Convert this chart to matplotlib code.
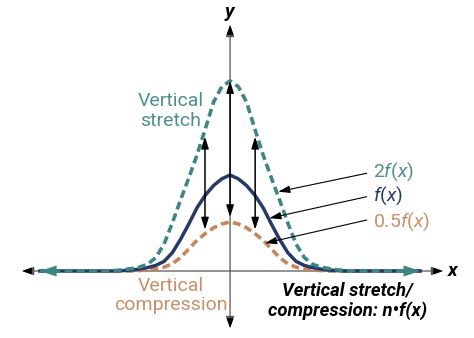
import matplotlib
matplotlib.use('Agg')
import matplotlib.pyplot as plt

plt.rcParams['font.family'] = ['Roboto', 'DejaVu Sans']
plt.rcParams['mathtext.fontset'] = 'custom'
plt.rcParams['mathtext.rm'] = 'Roboto'
plt.rcParams['mathtext.it'] = 'Roboto:italic'

# sample points (x in units of ~33 px, y in units of f's peak)
x_pts = [-5.76, -3.75, -3.5, -3.25, -3.0, -2.75, -2.5, -2.25, -2.0, -1.75, -1.5, -1.25, -1.0, -0.75, -0.5, -0.25,
         0.0, 0.25, 0.5, 0.75, 1.0, 1.25, 1.5, 1.75, 2.0, 2.25, 2.5, 2.75, 3.0, 3.25, 3.5, 3.75, 5.76]
f_vals = [0.0, 0.0, 0.0, 0.004, 0.01, 0.02, 0.035, 0.058, 0.10, 0.19, 0.33, 0.49, 0.66, 0.79, 0.89, 0.96,
          1.00, 0.96, 0.89, 0.79, 0.66, 0.49, 0.33, 0.19, 0.10, 0.058, 0.035, 0.02, 0.01, 0.004, 0.0, 0.0, 0.0]
f2_vals = [0.0, 0.0, 0.005, 0.012, 0.025, 0.04, 0.07, 0.14, 0.28, 0.50, 0.74, 0.97, 1.21, 1.48, 1.76, 1.92,
           1.98, 1.92, 1.76, 1.48, 1.21, 0.97, 0.74, 0.50, 0.28, 0.14, 0.07, 0.04, 0.025, 0.012, 0.005, 0.0, 0.0]
fh_vals = [0.0, 0.0, 0.0, 0.0, 0.0, 0.005, 0.01, 0.02, 0.04, 0.075, 0.14, 0.23, 0.32, 0.39, 0.45, 0.49,
           0.51, 0.49, 0.45, 0.39, 0.32, 0.23, 0.14, 0.075, 0.04, 0.02, 0.01, 0.005, 0.0, 0.0, 0.0, 0.0, 0.0]

# the double arrows between 2f(x) and 0.5f(x)
arrow_x = [-0.76, 0.0, 0.76]
arrow_top = [1.40, 1.98, 1.40]
arrow_bot = [0.43, 0.56, 0.43]

labels = ['2$f$($x$)', '$f$($x$)', '0.5$f$($x$)']

teal = '#3f8584'
navy = '#263a66'
orange = '#c8855a'
teal_txt = '#4f8f8c'
orange_txt = '#c98f69'

fig = plt.figure(figsize=(4.74, 3.38), dpi=100)
ax = fig.add_axes([0, 0, 1, 1])
ax.set_xlim(-6.97, 7.39)
ax.set_ylim(-0.698, 2.823)
ax.axis('off')

# axes with arrowheads
ax.annotate('', xy=(6.45, 0), xytext=(-6.30, 0),
            arrowprops=dict(arrowstyle='<|-|>,head_length=0.7,head_width=0.25',
                            mutation_scale=10, color='#555555', lw=0.9,
                            shrinkA=0, shrinkB=0))
ax.annotate('', xy=(0, 2.5625), xytext=(0, -0.594),
            arrowprops=dict(arrowstyle='<|-|>,head_length=0.7,head_width=0.25',
                            mutation_scale=10, color='#555555', lw=0.9,
                            shrinkA=0, shrinkB=0))
# black heads over the gray shafts
for tip, tail in [((6.45, 0), (6.0, 0)), ((-6.30, 0), (-5.9, 0)),
                  ((0, 2.5625), (0, 2.4)), ((0, -0.594), (0, -0.45))]:
    ax.annotate('', xy=tip, xytext=tail,
                arrowprops=dict(arrowstyle='-|>,head_length=0.7,head_width=0.25',
                                mutation_scale=10, color='black', lw=0,
                                shrinkA=0, shrinkB=0))
ax.text(-0.03, 2.70, 'y', fontsize=14, fontweight='bold', fontstyle='italic',
        ha='center', va='center')
ax.text(6.75, 0.0, 'x', fontsize=14, fontweight='bold', fontstyle='italic',
        ha='center', va='center')

# curves
ax.plot(x_pts, fh_vals, color=orange, lw=2.6, dashes=(2.2, 1.2), zorder=3)
ax.plot(x_pts, f_vals, color=navy, lw=2.5, zorder=4)
ax.plot(x_pts, f2_vals, color=teal, lw=2.6, dashes=(2.2, 1.2), zorder=5)

# teal arrowheads at the ends of the curves
for tip, tail in [((-5.76, 0), (-5.0, 0)), ((5.76, 0), (5.0, 0))]:
    ax.annotate('', xy=tip, xytext=tail,
                arrowprops=dict(arrowstyle='-|>,head_length=0.6,head_width=0.2',
                                mutation_scale=20, color=teal, lw=0,
                                shrinkA=0, shrinkB=0), zorder=6)

# vertical double arrows
for xa, yt, yb in zip(arrow_x, arrow_top, arrow_bot):
    ax.annotate('', xy=(xa, yt), xytext=(xa, yb),
                arrowprops=dict(arrowstyle='<|-|>,head_length=0.7,head_width=0.22',
                                mutation_scale=10, color='black', lw=1.1,
                                shrinkA=0, shrinkB=0), zorder=7)

# leader lines and labels
label_y = [1.035, 0.78, 0.514]
start_y = [1.018, 0.774, 0.531]
tips = [(1.46, 0.826), (1.19, 0.55), (1.06, 0.29)]
label_cols = [teal_txt, navy, orange_txt]
for lab, ly, sy, tip, col in zip(labels, label_y, start_y, tips, label_cols):
    ax.annotate('', xy=tip, xytext=(4.14, sy),
                arrowprops=dict(arrowstyle='-|>,head_length=0.7,head_width=0.22',
                                mutation_scale=10, color='black', lw=0.8,
                                shrinkA=0, shrinkB=0), zorder=8)
    ax.text(4.33, ly, lab, color=col, fontsize=14, ha='left', va='center')

ax.text(-1.79, 1.667, 'Vertical\nstretch', color=teal_txt, fontsize=14,
        ha='center', va='center', linespacing=1.1)
ax.text(-1.79, -0.255, 'Vertical\ncompression', color=orange_txt, fontsize=14,
        ha='center', va='center', linespacing=1.1)
ax.text(3.55, -0.3125, 'Vertical stretch/\ncompression: n\u2022f(x)', color='black',
        fontsize=13.3, fontweight='bold', fontstyle='italic',
        ha='center', va='center', linespacing=1.15)

plt.savefig('out.png', dpi=100)
